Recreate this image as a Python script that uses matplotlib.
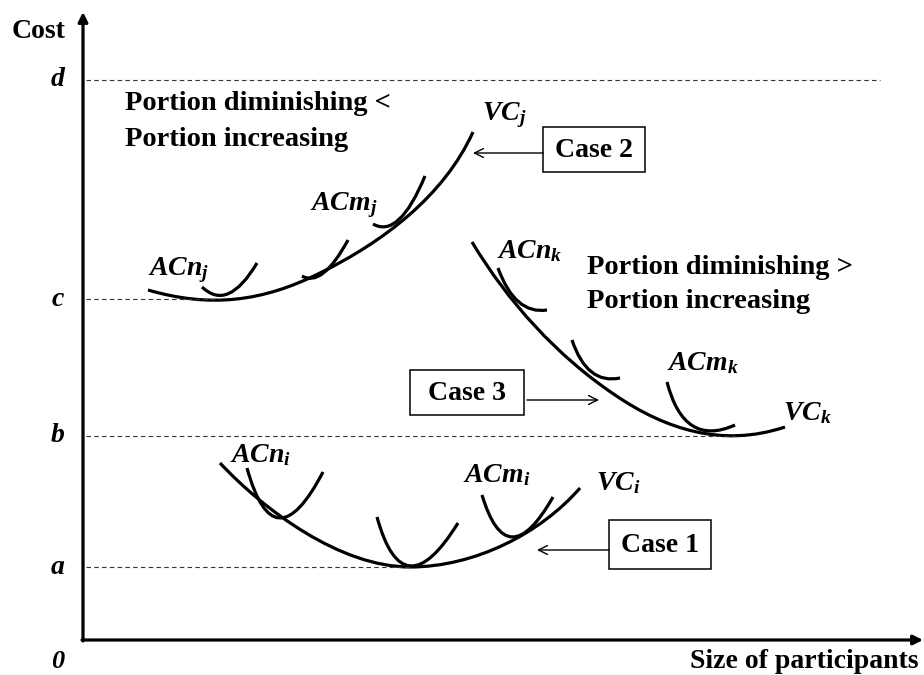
import matplotlib
matplotlib.use("Agg")
import matplotlib.pyplot as plt
from matplotlib.path import Path
import matplotlib.patches as patches

plt.rcParams['font.family'] = ['Liberation Serif', 'DejaVu Serif']
plt.rcParams['mathtext.fontset'] = 'custom'
plt.rcParams['mathtext.it'] = 'Liberation Serif:italic:bold'
plt.rcParams['mathtext.rm'] = 'Liberation Serif:bold'
plt.rcParams['mathtext.bf'] = 'Liberation Serif:bold'

#---Données (coordonnées en pixels, y vers le bas)---------------------------
niveaux = ['a', 'b', 'c', 'd']
niveaux_y = [567, 436, 299, 80]
niveaux_fin = [410, 740, 220, 880]   # fin des pointillés

# grandes courbes VC : deux segments de Bézier cubiques
# (départ, ctrl, ctrl, jonction, ctrl, ctrl, arrivée)
vc_i = [(220, 463), (264, 510), (340, 567), (410, 567), (475, 567), (541, 533), (580, 488)]
vc_j = [(148, 290), (210, 308), (262, 302), (320, 273), (383, 242), (444, 196), (473, 132)]
vc_k = [(472, 242), (508, 302), (557, 356), (615, 395), (665, 429), (722, 448), (785, 427)]

# petites courbes AC (Bézier quadratiques : départ, contrôle, arrivée)
arcs = [
    [(247, 468), (274, 566), (323, 472)],   # ACn_i
    [(377, 517), (403, 612), (458, 523)],   # milieu i
    [(482, 495), (507, 578), (553, 497)],   # ACm_i
    [(202, 287), (228, 312), (257, 263)],   # ACn_j
    [(302, 276), (322, 288), (348, 240)],   # milieu j
    [(373, 224), (399, 239), (425, 176)],   # ACm_j
    [(498, 268), (515, 315), (547, 310)],   # ACn_k
    [(572, 340), (587, 385), (620, 378)],   # milieu k
    [(667, 382), (684, 448), (735, 425)],   # ACm_k
]

# étiquettes des courbes (texte, x gauche, ligne de base)
etiquettes = [
    (r'$ACn_j$', 148, 275), (r'$ACm_j$', 310, 210), (r'$VC_j$', 482, 120),
    (r'$ACn_k$', 497, 258), (r'$ACm_k$', 667, 370), (r'$VC_k$', 783, 420),
    (r'$ACn_i$', 230, 462), (r'$ACm_i$', 463, 482), (r'$VC_i$', 596, 490),
]

# cadres "Case" : texte, (x0, y0, x1, y1), flèche (départ, pointe)
cas_textes = ['Case 1', 'Case 2', 'Case 3']
cas_cadres = [(609, 520, 711, 569), (543, 127, 645, 172), (410, 370, 524, 415)]
cas_fleches = [((609, 550), (537, 550)), ((543, 153), (473, 153)), ((527, 400), (599, 400))]


#---Figure---------------------------------
fig = plt.figure(figsize=(9.24, 6.75), dpi=100)
ax = fig.add_axes([0, 0, 1, 1])
ax.set_xlim(0, 924)
ax.set_ylim(675, 0)
ax.axis('off')

# Axes avec flèches
ax.annotate('', xy=(83, 12), xytext=(83, 641),
            arrowprops=dict(arrowstyle='-|>', lw=2.3, color='black', mutation_scale=14, shrinkA=0, shrinkB=0))
ax.annotate('', xy=(923, 640), xytext=(82, 640),
            arrowprops=dict(arrowstyle='-|>', lw=2.3, color='black', mutation_scale=14, shrinkA=0, shrinkB=0))

# Pointillés et lettres des niveaux
for nom, y, fin in zip(niveaux, niveaux_y, niveaux_fin):
    ax.plot([86, fin], [y, y], color='#333333', lw=0.8, dashes=(4, 3))
    ax.text(58, y, nom, fontsize=20, fontweight='bold', fontstyle='italic', ha='center', va='center')

ax.text(39, 32, 'Cost', fontsize=20, fontweight='bold', ha='center', va='center')
ax.text(58, 662, '0', fontsize=19, fontweight='bold', fontstyle='italic', ha='center', va='center')
ax.text(918, 662, 'Size of participants', fontsize=20, fontweight='bold', ha='right', va='center')

# Courbes VC
codes_vc = [Path.MOVETO] + [Path.CURVE4] * 6
for pts in [vc_i, vc_j, vc_k]:
    ax.add_patch(patches.PathPatch(Path(pts, codes_vc), fill=False, lw=2.3, edgecolor='black', capstyle='butt'))

# Petites courbes AC
codes_arc = [Path.MOVETO, Path.CURVE3, Path.CURVE3]
for pts in arcs:
    ax.add_patch(patches.PathPatch(Path(pts, codes_arc), fill=False, lw=2.3, edgecolor='black', capstyle='butt'))

for txt, x, y in etiquettes:
    ax.text(x, y, txt, fontsize=20, ha='left', va='baseline')

# Textes "Portion"
ax.text(125, 103, 'Portion diminishing <', fontsize=20.5, fontweight='bold', ha='left', va='center')
ax.text(125, 140, 'Portion increasing', fontsize=20.5, fontweight='bold', ha='left', va='center')
ax.text(587, 267, 'Portion diminishing >', fontsize=20.5, fontweight='bold', ha='left', va='center')
ax.text(587, 302, 'Portion increasing', fontsize=20.5, fontweight='bold', ha='left', va='center')

# Cadres "Case" et flèches fines
for txt, (x0, y0, x1, y1), (depart, pointe) in zip(cas_textes, cas_cadres, cas_fleches):
    ax.add_patch(patches.Rectangle((x0, y0), x1 - x0, y1 - y0, fill=False, lw=1.1, edgecolor='black'))
    ax.text((x0 + x1) / 2, (y0 + y1) / 2 + 1, txt, fontsize=20, fontweight='bold', ha='center', va='center')
    ax.annotate('', xy=pointe, xytext=depart,
                arrowprops=dict(arrowstyle='->', lw=1.0, color='black', mutation_scale=16, shrinkA=0, shrinkB=0))

fig.savefig('out.png', dpi=100)
